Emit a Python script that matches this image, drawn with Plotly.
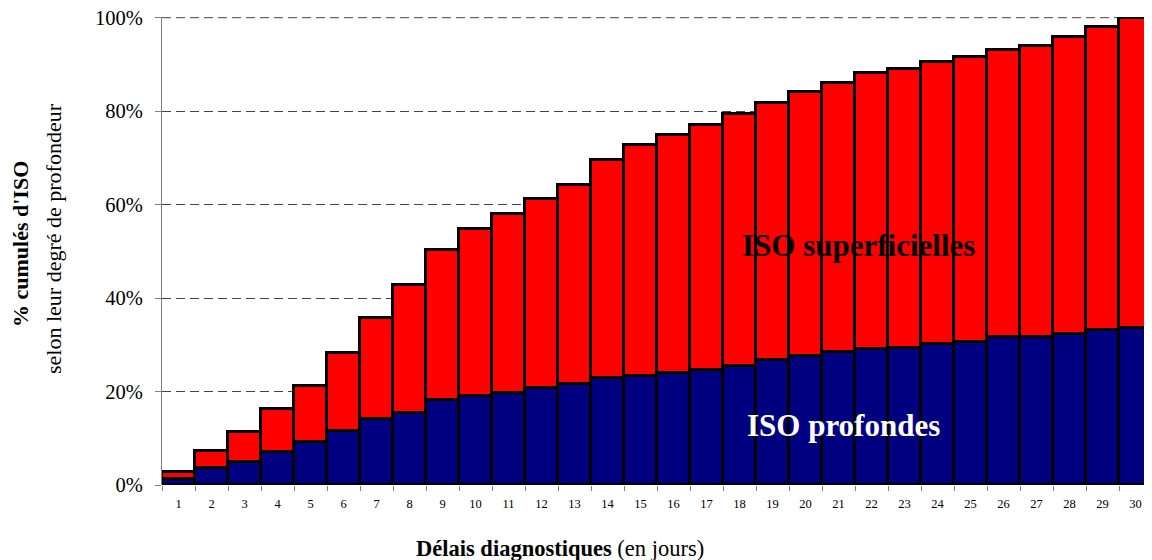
import plotly.graph_objects as go

jours = [str(i) for i in range(1, 31)]
iso_profondes = [1.3, 3.7, 4.9, 7.1, 9.3, 11.5, 14.2, 15.5, 18.2, 19.1,
                 19.6, 20.7, 21.7, 22.8, 23.3, 24.0, 24.6, 25.5, 26.7, 27.6,
                 28.5, 29.1, 29.3, 30.1, 30.6, 31.6, 31.7, 32.3, 33.1, 33.5]
iso_superficielles = [1.5, 3.6, 6.4, 9.1, 11.9, 16.7, 21.5, 27.4, 32.0, 35.6,
                      38.4, 40.6, 42.4, 46.8, 49.4, 50.9, 52.5, 53.8, 55.1, 56.4,
                      57.6, 59.1, 59.7, 60.5, 61.0, 61.5, 62.2, 63.5, 64.9, 66.5]
y_ticks = [0, 20, 40, 60, 80, 100]
y_tick_labels = ["0%", "20%", "40%", "60%", "80%", "100%"]

FONT = "Liberation Serif"
GRID = "#444444"

fig = go.Figure()
fig.add_trace(go.Bar(x=jours, y=iso_profondes, name="ISO profondes",
                     marker=dict(color="#000080", line=dict(color="black", width=2.8))))
fig.add_trace(go.Bar(x=jours, y=iso_superficielles, name="ISO superficielles",
                     marker=dict(color="#ff0000", line=dict(color="black", width=2.8))))

# page body has an 8px margin: compensate so the plot area lands where the reference has it
fig.update_layout(
    width=1144, height=552,
    barmode="stack", bargap=0,
    showlegend=False,
    plot_bgcolor="white", paper_bgcolor="white",
    margin=dict(l=154, r=0, t=9, b=75),
    font=dict(family=FONT, color="black"),
    xaxis=dict(type="category", tickson="boundaries", ticks="outside", ticklen=5,
               tickcolor="#808080", tickfont=dict(size=12.5, family=FONT),
               ticklabelstandoff=9,
               showline=False, showgrid=False),
    yaxis=dict(range=[0, 100.15], tickvals=y_ticks, ticktext=y_tick_labels, ticks="outside",
               ticklen=6, tickcolor="#808080", tickfont=dict(size=20.5, family=FONT),
               ticklabelstandoff=8, ticklabeloverflow="allow",
               showline=True, linecolor="#808080", linewidth=1,
               showgrid=True, gridcolor=GRID, griddash="9px,5px", gridwidth=1,
               zeroline=False),
)

# 100% gridline (sits on the plot's top edge)
fig.add_shape(type="line", xref="paper", x0=0, x1=1, yref="y", y0=100, y1=100,
              line=dict(color=GRID, width=1, dash="9px,5px"), layer="below")

fig.add_annotation(text="<b>ISO superficielles</b>", x=20.6, y=51.3, xref="x", yref="y",
                   showarrow=False, font=dict(size=31, color="black", family=FONT))
fig.add_annotation(text="<b>ISO profondes</b>", x=20.15, y=12.8, xref="x", yref="y",
                   showarrow=False, font=dict(size=31, color="white", family=FONT))

fig.add_annotation(text="<b>% cumulés d'ISO</b>", xref="paper", yref="paper",
                   x=0, xshift=-142, xanchor="center", yanchor="middle",
                   y=(485 - 244) / 468, textangle=-90,
                   showarrow=False, font=dict(size=22, family=FONT))
fig.add_annotation(text="selon leur degré de profondeur", xref="paper", yref="paper",
                   x=0, xshift=-109, xanchor="center", yanchor="middle",
                   y=(485 - 239) / 468, textangle=-90,
                   showarrow=False, font=dict(size=22, family=FONT))
fig.add_annotation(text="<b>Délais diagnostiques</b> (en jours)", xref="paper", yref="paper",
                   x=(560 - 162) / 990, y=(485 - 548) / 468, xanchor="center", yanchor="middle",
                   showarrow=False, font=dict(size=22.5, family=FONT))

fig.write_html("out.html")
